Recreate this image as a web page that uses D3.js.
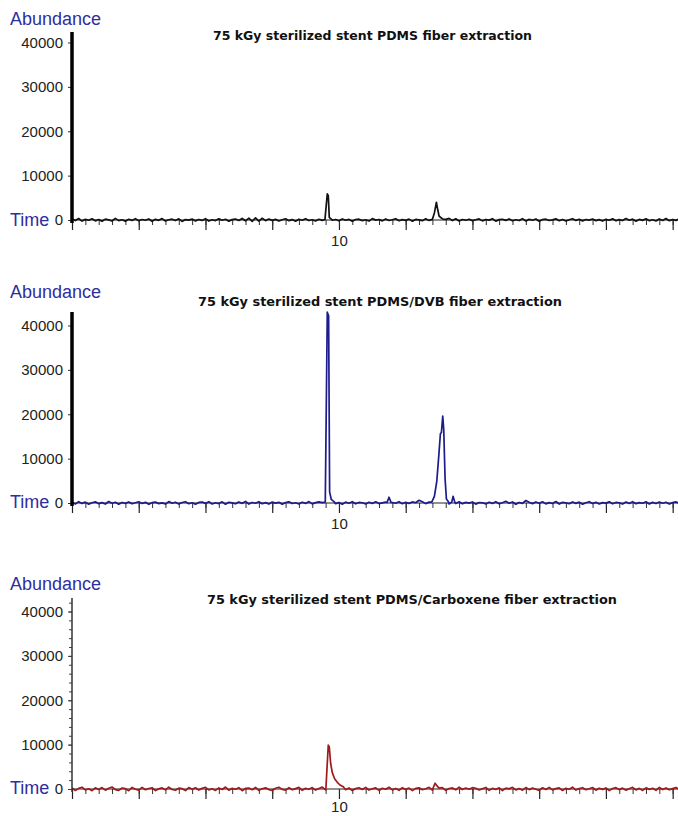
<!DOCTYPE html>
<html>
<head>
<meta charset="utf-8">
<script src="https://cdn.jsdelivr.net/npm/d3@7/dist/d3.min.js"></script>
<style>
  body { margin: 0; background: #fff; }
  svg { display: block; }
</style>
</head>
<body>
<svg id="canvas" width="678" height="816"></svg>
<script>
// chart values
let titles = [
	'75 kGy sterilized stent PDMS fiber extraction',
	'75 kGy sterilized stent PDMS/DVB fiber extraction',
	'75 kGy sterilized stent PDMS/Carboxene fiber extraction'
];
let traceColors = ['#111111', '#1c1c8c', '#a01a1a'];
let yTickValues = [0, 10000, 20000, 30000, 40000];
let xLabelled = [10];

// baseline scans, one every 0.1 min starting at 2.0 min
let scanStart = 2.0;
let scanStep = 0.1;

let noise1 = [
	250, -130, 330, -240, 140, -60, 280, -190, 100, -300, 200, 30, -230, 360, -140, 60, -260, 170, -90, 290,
	-170, 110, -50, 240, -290, 150, -80, 320, -210, 50, 180, -120, 260, -320, 90, -30, 210, -200, 120, -90,
	300, -230, 60, -140, 260, -50, 170, -270, 80, 230, -110, 350, -180, 420, -300, 480, -240, 390, -140, 210,
	-90, 140, -210, 50, 270, -150, 90, -260, 180, -60, 300, -120, 50, -230, 170, -90, 90, 60, -50, 120,
	-180, 240, -60, 140, -270, 110, 180, -140, 60, -240, 320, -30, 120, -200, 230, -110, 50, 290, -170, 90,
	-80, 200, -260, 140, 30, -150, 260, -90, 170, -210, 90, -50, 150, 360, -120, 270, -230, 110, -60, 180,
	-140, 60, 240, -200, 120, -30, 290, -260, 80, 170, -90, 230, -180, 50, -120, 300, -210, 140, -50, 210,
	-270, 90, 180, -110, 30, 260, -170, 120, -230, 60, 290, -90, 170, -200, 110, -30, 230, -140, 80, -240,
	150, -60, 260, -180, 90, -120, 320, -50, 200, -260, 140, -80, 270, -170, 60, -210, 240, -110, 330, -150,
	120, -90, 230
];
let noise2 = [
	140, -210, 300, -90, 200, -270, 60, 260, -150, 90, -230, 330, -50, 170, -290, 120, -80, 240, -180, 50,
	270, -110, 150, -300, 80, 210, -140, 30, -240, 320, -60, 180, -200, 110, 290, -170, 50, -260, 140, 230,
	-90, 300, -210, 60, -140, 260, -270, 170, 30, -180, 240, -80, 350, -230, 120, -50, 290, -170, 90, -240,
	210, -30, 150, -290, 110, 270, -120, 50, -210, 180, -90, 320, -200, 80, 240, 90, 140, -60, 230, -150,
	90, -260, 200, -50, 300, -180, 120, 60, -230, 170, -90, 260, -140, 30, 210, -270, 110, -60, 290, -170,
	150, -80, 240, 60, 620, 300, -140, 200, -240, 90, 270, -50, 170, -210, 80, -120, 260, -180, 140, -30,
	230, -260, 110, 50, -200, 180, -90, 300, -150, 60, 380, -60, 230, -290, 120, -90, 560, 180, -140, 210,
	-50, 270, -200, 90, -120, 330, -230, 140, 30, -170, 240, -80, 200, -260, 60, 290, -110, 150, -210, 90,
	-30, 260, -180, 120, 50, -240, 210, -90, 300, -150, 80, -50, 270, -210, 140, -120, 230, -60, 170, -230,
	110, 240, -80
];
let noise3 = [
	270, -330, 140, 390, -210, 60, -380, 260, -90, 320, -270, 180, 450, -140, -300, 230, 90, -390, 350, -60,
	-240, 360, -170, 110, 290, -350, 30, 240, -180, 410, -120, -290, 200, 80, -360, 330, -50, 270, -230, 140,
	380, -200, 60, -320, 240, -110, 440, -270, 170, -60, 300, -380, 120, 210, -170, 350, -290, 50, 260, -140,
	-330, 180, 390, -90, -260, 290, -180, 90, 360, -300, 150, -50, 320, -240, 110, 420, -210, 60, 180, 90,
	-270, 330, -150, 230, -350, 90, 290, -110, 360, -230, 50, 260, -320, 170, -60, 390, -200, 120, -290, 300,
	-90, 210, -360, 140, 270, -170, 50, 380, -260, 180, -80, 320, -300, 110, 240, -180, 410, -120, 210, -50,
	300, 170, -230, 60, 350, -290, 140, -90, 260, -350, 200, 30, 380, -210, 90, -270, 320, -140, 230, -60,
	-300, 270, -110, 360, -200, 80, 240, -330, 150, -50, 410, -240, 120, 290, -170, 50, 330, -270, 180, -90,
	240, -360, 110, 300, -140, 200, -260, 60, 380, -210, 140, -320, 270, -80, 170, -290, 350, -120, 230, -180,
	90, 320, -150
];

// peaks as [time in min, abundance]
let peaks1 = [
	[[9.58, 100], [9.65, 5900], [9.68, 5500], [9.71, 600], [9.77, 200]],
	[[12.80, 150], [12.86, 1600], [12.92, 4000], [12.96, 2300], [13.00, 900], [13.06, 500], [13.12, 200]]
];
let peaks2 = [
	[[9.59, 200], [9.65, 43000], [9.69, 42200], [9.72, 2500], [9.77, 800], [9.85, 300]],
	[[11.44, 100], [11.50, 1300], [11.56, 150]],
	[[12.78, 200], [12.86, 1500], [12.93, 4800], [12.99, 10500], [13.04, 15600], [13.07, 15900],
	 [13.11, 19600], [13.14, 16500], [13.18, 5500], [13.22, 900], [13.28, 300]],
	[[13.38, 200], [13.42, 1500], [13.47, 200]]
];
let peaks3 = [
	[[9.61, 300], [9.68, 9900], [9.71, 9500], [9.75, 5800], [9.80, 3700], [9.87, 2300], [9.95, 1500],
	 [10.03, 900], [10.13, 500]],
	[[12.82, 200], [12.88, 1300], [12.94, 700], [13.00, 200]]
];

let noiseSets = [noise1, noise2, noise3];
let peakSets = [peaks1, peaks2, peaks3];

// page layout for the three stacked panels
let panels = [
	{ y0: 220, axisTop: 32, abundY: 25, timeY: 226, titleY: 40, titleX0: 213, titleX1: 532, thick: true, pad: 5 },
	{ y0: 503, axisTop: 312, abundY: 298, timeY: 508, titleY: 306, titleX0: 198, titleX1: 562, thick: true, pad: 5 },
	{ y0: 789, axisTop: 598, abundY: 590, timeY: 794, titleY: 604, titleX0: 207, titleX1: 617, thick: false, pad: 2 }
];

let canvas = d3.select('#canvas');
let xLeft = 72;
let xRight = 678;

let x = d3.scaleLinear().domain([2, 20.16]).range([xLeft, xRight]);

canvas.append('defs')
	.append('clipPath')
	.attr('id', 'plotclip')
	.append('rect')
	.attr('x', xLeft)
	.attr('y', 0)
	.attr('width', xRight - xLeft)
	.attr('height', 816);

let buildTrace = (noise, peaks) => {
	let points = noise.map((v, i) => [scanStart + i * scanStep, v]);
	peaks.forEach((pk) => {
		let t0 = pk[0][0];
		let t1 = pk[pk.length - 1][0];
		points = points.filter((p) => p[0] < t0 || p[0] > t1);
		points = points.concat(pk);
	});
	points.sort((a, b) => a[0] - b[0]);
	return points;
};

panels.forEach((panel, i) => {
	let y = d3.scaleLinear().domain([0, 40000]).range([panel.y0, panel.y0 - 177.5]);
	let g = canvas.append('g');

	// y axis ticks and labels
	let yAxis = d3.axisLeft(y).tickValues(yTickValues).tickSize(4).tickPadding(5).tickFormat(d3.format('d'));
	let yg = g.append('g').attr('transform', 'translate(' + xLeft + ',0)').call(yAxis);
	yg.select('.domain').remove();
	yg.selectAll('text')
		.attr('font-family', "'Liberation Sans', Arial, sans-serif")
		.attr('font-size', 15)
		.attr('fill', '#222');
	yg.selectAll('line').attr('stroke', '#333');

	if (!panel.thick) {
		let minor = d3.axisLeft(y).tickValues(d3.range(0, 42001, 2000)).tickSize(3).tickFormat('');
		let mg = g.append('g').attr('transform', 'translate(' + xLeft + ',0)').call(minor);
		mg.select('.domain').remove();
		mg.selectAll('line').attr('stroke', '#444');
	}

	// x axis major + minor ticks
	let xAxis = d3.axisBottom(x)
		.tickValues(d3.range(2, 20.01, 2))
		.tickSize(10)
		.tickPadding(panel.pad)
		.tickFormat((d) => (xLabelled.includes(d) ? String(d) : ''));
	let xg = g.append('g').attr('transform', 'translate(0,' + panel.y0 + ')').call(xAxis);
	xg.select('.domain').remove();
	xg.selectAll('line').attr('stroke', '#222').attr('stroke-width', 1.2);
	xg.selectAll('text')
		.attr('font-family', "'Liberation Sans', Arial, sans-serif")
		.attr('font-size', 15)
		.attr('fill', '#222');

	let xMinor = d3.axisBottom(x).tickValues(d3.range(2.4, 20.1, 0.4)).tickSize(5).tickFormat('');
	let xmg = g.append('g').attr('transform', 'translate(0,' + panel.y0 + ')').call(xMinor);
	xmg.select('.domain').remove();
	xmg.selectAll('line').attr('stroke', '#333');

	g.append('line')
		.attr('x1', xLeft).attr('x2', xRight)
		.attr('y1', panel.y0).attr('y2', panel.y0)
		.attr('stroke', '#222').attr('stroke-width', 1);

	// trace
	let trace = buildTrace(noiseSets[i], peakSets[i]);
	let line = d3.line().x((d) => x(d[0])).y((d) => y(d[1]));
	g.append('path')
		.datum(trace)
		.attr('clip-path', 'url(#plotclip)')
		.attr('d', line)
		.attr('fill', 'none')
		.attr('stroke', traceColors[i])
		.attr('stroke-width', 1.7)
		.attr('stroke-linejoin', 'round');

	// vertical axis line
	g.append('line')
		.attr('x1', xLeft).attr('x2', xLeft)
		.attr('y1', panel.axisTop).attr('y2', panel.y0 + 3)
		.attr('stroke', panel.thick ? '#000' : '#333')
		.attr('stroke-width', panel.thick ? 3.5 : 1.5);

	// labels
	g.append('text')
		.text('Abundance')
		.attr('x', 10).attr('y', panel.abundY)
		.attr('font-family', "'Liberation Sans', Arial, sans-serif")
		.attr('font-size', 18)
		.attr('fill', '#2e2e9e');
	g.append('text')
		.text('Time')
		.attr('x', 10).attr('y', panel.timeY)
		.attr('font-family', "'Liberation Sans', Arial, sans-serif")
		.attr('font-size', 18)
		.attr('fill', '#2e2e9e');

	g.append('text')
		.text(titles[i])
		.attr('x', panel.titleX0).attr('y', panel.titleY)
		.attr('textLength', panel.titleX1 - panel.titleX0)
		.attr('lengthAdjust', 'spacingAndGlyphs')
		.attr('font-family', "'Comic Sans MS', 'DejaVu Sans', sans-serif")
		.attr('font-weight', 'bold')
		.attr('font-size', 13)
		.attr('fill', '#111');
});
</script>
</body>
</html>
